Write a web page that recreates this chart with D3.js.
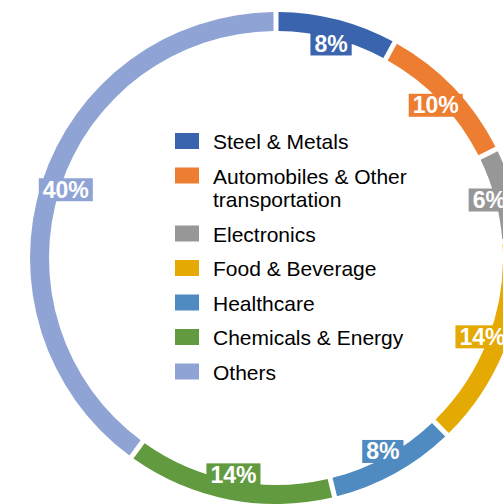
<!DOCTYPE html>
<html>
<head>
<meta charset="utf-8">
<script src="https://cdn.jsdelivr.net/npm/d3@7"></script>
<style>
  html, body { margin: 0; padding: 0; background: #fff; overflow: hidden; }
  svg { display: block; font-family: "Liberation Sans", Arial, sans-serif; }
</style>
</head>
<body>
<svg id="chart" width="503" height="504"></svg>
<script>
const categories = ['Steel & Metals', 'Automobiles & Other transportation', 'Electronics',
  'Food & Beverage', 'Healthcare', 'Chemicals & Energy', 'Others']
const legendLines = [['Steel & Metals'], ['Automobiles & Other', 'transportation'], ['Electronics'],
  ['Food & Beverage'], ['Healthcare'], ['Chemicals & Energy'], ['Others']]
const shares = [7.9, 9.6, 6.0, 13.9, 8.3, 13.8, 40.4]
const colors = ['#3b64ae', '#ed7d31', '#979797', '#e4a902', '#4f8bc0', '#619a3f', '#8fa4d5']

const svg = d3.select('#chart')
const cx = 276, cy = 258
const rOuter = 246, rInner = 227
const padR = Math.sqrt(rOuter * rOuter + rInner * rInner)

const total = d3.sum(shares)
const pie = d3.pie().sort(null).value(d => d).padAngle(5 / padR)
const arcs = pie(shares)

const arc = d3.arc().innerRadius(rInner).outerRadius(rOuter).padRadius(padR)
const labelArc = d3.arc().innerRadius(221).outerRadius(221)

const g = svg.append('g').attr('transform', `translate(${cx},${cy})`)

g.selectAll('path.slice')
  .data(arcs)
  .enter().append('path')
  .attr('class', 'slice')
  .attr('d', arc)
  .attr('fill', (d, i) => colors[i])

// data labels: white bold text on a box of the slice colour
const labels = g.selectAll('g.label')
  .data(arcs)
  .enter().append('g')
  .attr('class', 'label')
  .attr('transform', d => `translate(${labelArc.centroid(d)})`)

labels.append('text')
  .attr('text-anchor', 'middle')
  .attr('y', 8)
  .attr('fill', '#fff')
  .attr('font-weight', 'bold')
  .attr('font-size', '23px')
  .text(d => Math.round(d.value / total * 100) + '%')

labels.each(function (d, i) {
  const grp = d3.select(this)
  const w = grp.select('text').node().getComputedTextLength() + 8
  grp.insert('rect', 'text')
    .attr('x', -w / 2)
    .attr('y', -11.5)
    .attr('width', w)
    .attr('height', 23)
    .attr('fill', colors[i])
})

// legend
const lineH = 23.5, rowGap = 34.5
let y = 141
const legend = svg.append('g')
legendLines.forEach((lines, i) => {
  const row = legend.append('g').attr('transform', `translate(0,${y})`)
  row.append('rect')
    .attr('x', 175).attr('y', -8)
    .attr('width', 24).attr('height', 16)
    .attr('fill', colors[i])
  const t = row.append('text')
    .attr('x', 213).attr('y', 8)
    .attr('font-size', '21px')
    .attr('fill', '#000')
  lines.forEach((ln, k) => {
    t.append('tspan').attr('x', 213).attr('dy', k === 0 ? 0 : lineH).text(ln)
  })
  y += rowGap + (lines.length - 1) * lineH
})
</script>
</body>
</html>
